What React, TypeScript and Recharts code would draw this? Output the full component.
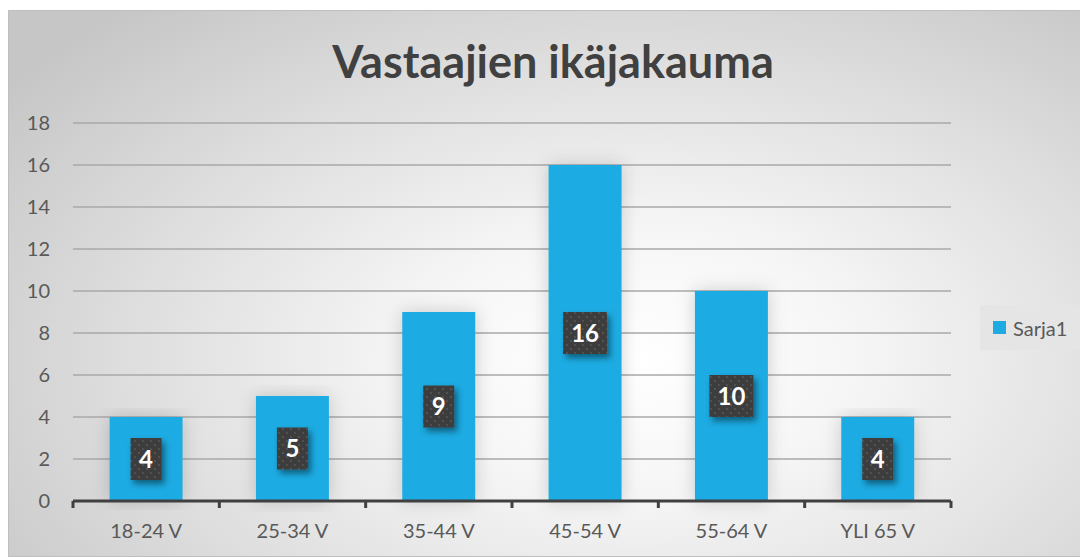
import { Bar, BarChart, CartesianGrid, LabelList, XAxis, YAxis } from "recharts";

const categories = ["18-24 V", "25-34 V", "35-44 V", "45-54 V", "55-64 V", "YLI 65 V"];
const values = [4, 5, 9, 16, 10, 4];
const yTicks = [0, 2, 4, 6, 8, 10, 12, 14, 16, 18];
const seriesName = "Sarja1";

const data = categories.map((name, i) => ({ name, [seriesName]: values[i] }));

const W = 1080;
const H = 547;
const MARGIN = { top: 112, right: 136, bottom: 25, left: 0 };
const X_AXIS_H = 30;
const Y_AXIS_W = 64;
const BAND = (W - 2 - MARGIN.left - MARGIN.right - Y_AXIS_W) / categories.length;
const FONT = "Lato, Calibri, 'Open Sans', sans-serif";
const TEXT = "#595959";
const BAR = "#1eabe2";

function YTick({ x, y, payload }: any) {
  return (
    <text x={x - 15} y={y} dy={7} textAnchor="end" fontSize={20} fill={TEXT} fontFamily={FONT}>
      {payload.value}
    </text>
  );
}

function XTick({ x, y, payload, index }: any) {
  const last = index === categories.length - 1;
  return (
    <g>
      <line x1={x - BAND / 2} x2={x - BAND / 2} y1={y - 8} y2={y - 1} stroke="#404040" strokeWidth={3} />
      {last && (
        <line x1={x + BAND / 2} x2={x + BAND / 2} y1={y - 8} y2={y - 1} stroke="#404040" strokeWidth={3} />
      )}
      <text x={x} y={y + 29} textAnchor="middle" fontSize={20} fill={TEXT} fontFamily={FONT}>
        {payload.value}
      </text>
    </g>
  );
}

function ValueBox(props: any) {
  const { x, y, width, height, value } = props;
  const cx = x + width / 2;
  const cy = y + height / 2;
  const bw = String(value).length > 1 ? 44 : 31;
  const bh = 42;
  return (
    <g>
      <rect
        x={cx - bw / 2}
        y={cy - bh / 2}
        width={bw}
        height={bh}
        fill="url(#dots)"
        filter="url(#boxShadow)"
      />
      <text
        x={cx}
        y={cy}
        dy={8.5}
        textAnchor="middle"
        fontSize={24}
        fontWeight="bold"
        fill="#ffffff"
        fontFamily={FONT}
      >
        {value}
      </text>
    </g>
  );
}

function LegendBox() {
  return (
    <div
      style={{
        position: "absolute",
        left: 971,
        top: 294,
        background: "rgba(228,228,228,0.9)",
        width: 103,
        height: 45,
        boxSizing: "border-box",
        paddingLeft: 13,
        display: "flex",
        alignItems: "center",
        fontFamily: FONT,
        fontSize: 20,
        color: TEXT,
      }}
    >
      <span style={{ width: 13, height: 13, background: BAR, display: "inline-block", marginRight: 7 }} />
      {seriesName}
    </div>
  );
}

export default function App() {
  return (
    <div
      style={{
        position: "relative",
        width: W,
        height: H,
        marginTop: 2,
        boxSizing: "border-box",
        border: "1px solid #bfbfbf",
        background:
          "radial-gradient(ellipse 72% 85% at 58% 64%, #ffffff 0%, #f6f6f6 28%, #dedede 65%, #c6c6c6 100%)",
      }}
    >
      <div
        style={{
          position: "absolute",
          left: 0,
          top: 23,
          width: W + 8,
          textAlign: "center",
          fontFamily: FONT,
          fontWeight: "bold",
          fontSize: 45,
          color: "#404040",
        }}
      >
        Vastaajien ikäjakauma
      </div>
      <BarChart width={W - 2} height={H - 2} data={data} margin={MARGIN} barCategoryGap="25%">
        <defs>
          <pattern id="dots" width="8" height="8" patternUnits="userSpaceOnUse">
            <rect width="8" height="8" fill="#3d3d3d" />
            <circle cx="2" cy="2" r="1" fill="#5a5a5a" />
            <circle cx="6" cy="6" r="1" fill="#555555" />
          </pattern>
          <filter id="boxShadow" x="-30%" y="-30%" width="170%" height="170%">
            <feDropShadow dx="3" dy="4" stdDeviation="3" floodColor="#000" floodOpacity="0.45" />
          </filter>
          <filter id="barShadow" x="-40%" y="-10%" width="180%" height="120%">
            <feDropShadow dx="0" dy="0" stdDeviation="9" floodColor="#000" floodOpacity="0.18" />
          </filter>
        </defs>
        <CartesianGrid vertical={false} stroke="#a8a8a8" strokeWidth={1.6} />
        <YAxis
          width={Y_AXIS_W}
          domain={[0, 18]}
          ticks={yTicks}
          axisLine={false}
          tickLine={false}
          tick={<YTick />}
          interval={0}
        />
        <XAxis
          dataKey="name"
          height={X_AXIS_H}
          axisLine={{ stroke: "#404040", strokeWidth: 3 }}
          tickLine={false}
          tick={<XTick />}
          interval={0}
        />
        <Bar dataKey={seriesName} fill={BAR} isAnimationActive={false} filter="url(#barShadow)">
          <LabelList dataKey={seriesName} content={<ValueBox />} />
        </Bar>
      </BarChart>
      <LegendBox />
    </div>
  );
}
